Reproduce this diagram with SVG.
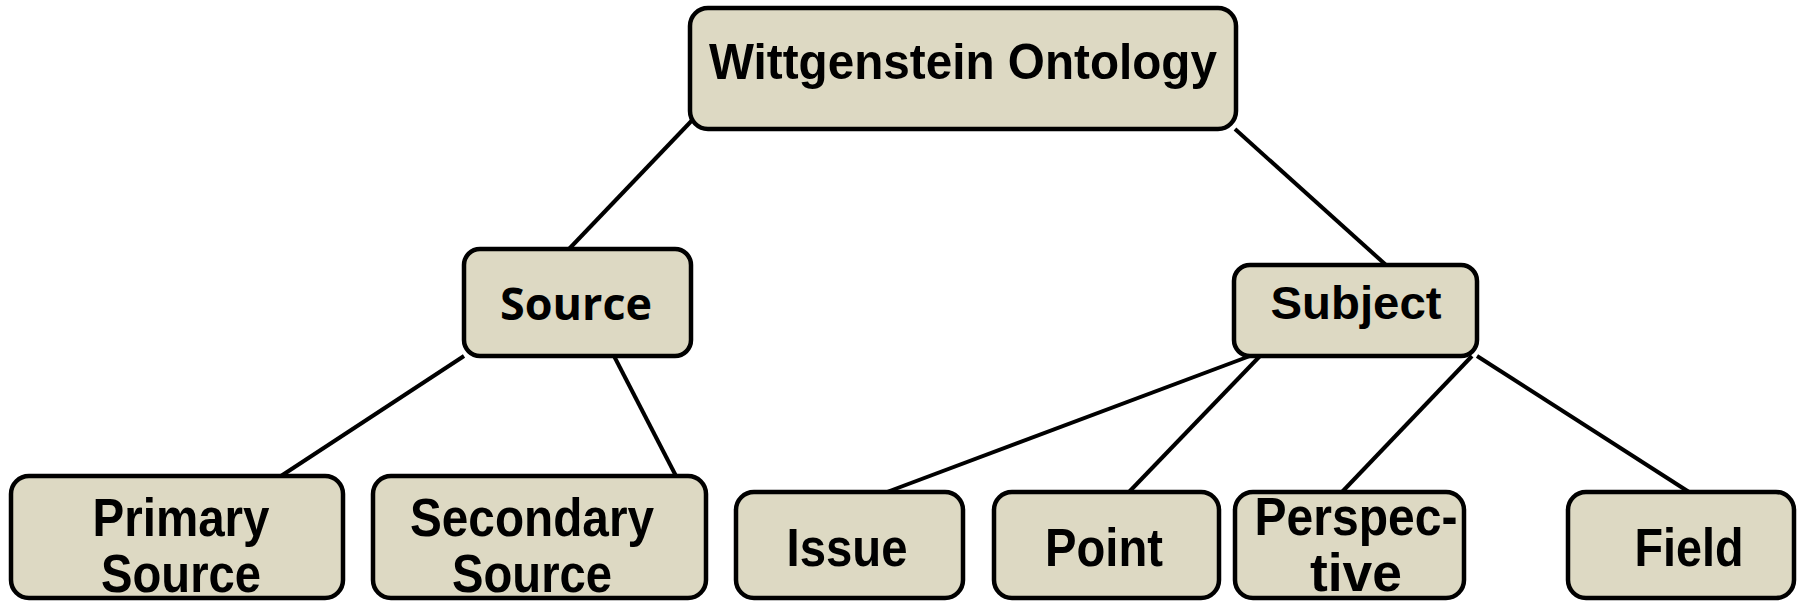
<svg xmlns="http://www.w3.org/2000/svg" width="1807" height="605" viewBox="0 0 1807 605">
<style>
.box{fill:#DDD9C3;stroke:#000;stroke-width:4.5}
.t{font-family:"Liberation Sans",Arial,sans-serif;font-weight:bold;fill:#000;text-anchor:middle}
.n{font-size:54px}
.edge{stroke:#000;stroke-width:4;fill:none}
</style>
<rect width="1807" height="605" fill="#fff"/>
<g id="connectors">
<line class="edge" x1="700" y1="112" x2="569" y2="249"/>
<line class="edge" x1="1235" y1="129" x2="1386" y2="265"/>
<line class="edge" x1="464" y1="356" x2="281" y2="476"/>
<line class="edge" x1="614" y1="356" x2="676" y2="476"/>
<line class="edge" x1="1250" y1="356" x2="887" y2="492"/>
<line class="edge" x1="1260" y1="356" x2="1129" y2="492"/>
<line class="edge" x1="1472" y1="356" x2="1342" y2="492"/>
<line class="edge" x1="1477" y1="356" x2="1689" y2="492"/>
</g>
<g id="root">
<rect class="box" x="690" y="8" width="546" height="121" rx="18"/>
<text class="t" x="963" y="79" font-size="50" textLength="508" lengthAdjust="spacingAndGlyphs">Wittgenstein Ontology</text>
</g>
<g id="source">
<rect class="box" x="464" y="249" width="227" height="107" rx="16"/>
<text class="t" x="576" y="320" font-size="44" style="font-family:'Open Sans',sans-serif" textLength="152" lengthAdjust="spacingAndGlyphs">Source</text>
</g>
<g id="subject">
<rect class="box" x="1234" y="265" width="243" height="91" rx="16"/>
<text class="t" x="1356" y="319" font-size="47" textLength="171" lengthAdjust="spacingAndGlyphs">Subject</text>
</g>
<g id="primary-source">
<rect class="box" x="11" y="476" width="332" height="122" rx="18"/>
<text class="t n" x="181" y="536" textLength="177" lengthAdjust="spacingAndGlyphs">Primary</text>
<text class="t n" x="181" y="592" textLength="160" lengthAdjust="spacingAndGlyphs">Source</text>
</g>
<g id="secondary-source">
<rect class="box" x="373" y="476" width="333" height="122" rx="18"/>
<text class="t n" x="532" y="536" textLength="244" lengthAdjust="spacingAndGlyphs">Secondary</text>
<text class="t n" x="532" y="592" textLength="160" lengthAdjust="spacingAndGlyphs">Source</text>
</g>
<g id="issue">
<rect class="box" x="736" y="492" width="227" height="106" rx="18"/>
<text class="t n" x="847" y="566" textLength="121" lengthAdjust="spacingAndGlyphs">Issue</text>
</g>
<g id="point">
<rect class="box" x="994" y="492" width="225" height="106" rx="18"/>
<text class="t n" x="1104" y="566" textLength="118" lengthAdjust="spacingAndGlyphs">Point</text>
</g>
<g id="perspective">
<rect class="box" x="1235" y="492" width="229" height="106" rx="18"/>
<text class="t n" x="1356" y="535" textLength="203" lengthAdjust="spacingAndGlyphs">Perspec-</text>
<text class="t n" x="1356" y="591" textLength="92" lengthAdjust="spacingAndGlyphs">tive</text>
</g>
<g id="field">
<rect class="box" x="1568" y="492" width="226" height="106" rx="18"/>
<text class="t n" x="1689" y="566" textLength="109" lengthAdjust="spacingAndGlyphs">Field</text>
</g>
</svg>
